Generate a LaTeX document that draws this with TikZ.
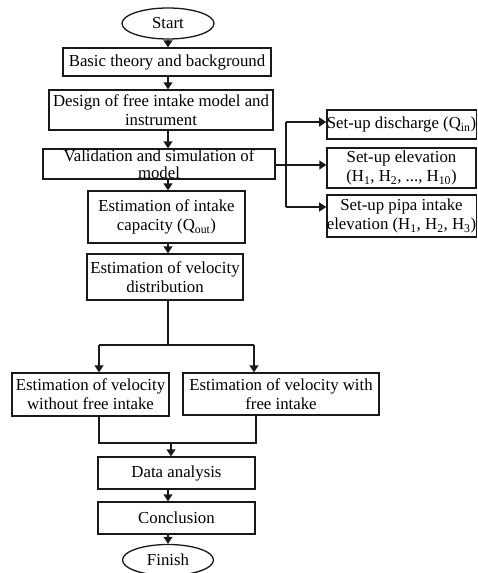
\documentclass[tikz,border=0pt]{standalone}
\usepackage{fontspec}
\setmainfont{Liberation Serif}
\usetikzlibrary{arrows.meta,shapes.geometric}
\begin{document}
\begin{tikzpicture}[x=1pt,y=-1pt,
  box/.style={draw=black!90, line width=1.3pt, align=center, inner sep=0pt, font=\fontsize{16.8}{19}\selectfont},
  oval/.style={draw=black!90, ellipse, line width=1.3pt, inner sep=0pt, font=\fontsize{16.8}{19}\selectfont},
  arr/.style={draw=black!90, line width=1.3pt, -{Triangle[length=7pt,width=9pt]}},
  ln/.style={draw=black!90, line width=1.3pt}]
\useasboundingbox (0,0) rectangle (477,573);

\node[oval, minimum width=92pt, minimum height=31pt] (start) at (168,23.5) {Start};
\node[box, minimum width=208pt, minimum height=28pt] (basic) at (167,62) {Basic theory and background};
\node[box, minimum width=224pt, minimum height=40pt] (design) at (161,110) {Design of free intake model and\\instrument};
\node[box, minimum width=232pt, minimum height=30pt, font=\fontsize{16.8}{16.5}\selectfont] (valid) at (159,164) {Validation and simulation of\\model};
\node[box, minimum width=157pt, minimum height=52pt] (intake) at (166.5,217) {Estimation of intake\\capacity (Q\textsubscript{out})};
\node[box, minimum width=156pt, minimum height=46pt] (veldist) at (165,277) {Estimation of velocity\\distribution};
\node[box, minimum width=157pt, minimum height=43pt] (vwo) at (90.5,394.5) {Estimation of velocity\\without free intake};
\node[box, minimum width=196pt, minimum height=42pt] (vw) at (281,394) {Estimation of velocity with\\free intake};
\node[box, minimum width=157pt, minimum height=32pt] (data) at (176.5,473) {Data analysis};
\node[box, minimum width=157pt, minimum height=32pt] (concl) at (176.5,518) {Conclusion};
\node[oval, minimum width=91pt, minimum height=31pt] (finish) at (168,560) {Finish};

\node[box, minimum width=149pt, minimum height=29pt] (q) at (401.5,124.5) {Set-up discharge (Q\textsubscript{in})};
\node[box, minimum width=149pt, minimum height=40pt] (elev) at (401.5,168) {Set-up elevation\\(H\textsubscript{1}, H\textsubscript{2}, ..., H\textsubscript{10})};
\node[box, minimum width=149pt, minimum height=42pt] (pipa) at (401.5,216) {Set-up pipa intake\\elevation (H\textsubscript{1}, H\textsubscript{2}, H\textsubscript{3})};

% main spine
\coordinate (ax) at (168,0);
\draw[arr] (start.south) -- (start.south |- basic.north);
\draw[arr] (basic.south -| ax) -- (design.north -| ax);
\draw[arr] (design.south -| ax) -- (valid.north -| ax);
\draw[arr] (valid.south -| ax) -- (intake.north -| ax);
\draw[arr] (intake.south -| ax) -- (veldist.north -| ax);

% branch to set-up boxes
\coordinate (bx) at (286,165);
\coordinate (bt) at (286,122);
\coordinate (bb) at (286,207);
\draw[arr] (valid.east |- bx) -- (elev.west |- bx);
\draw[ln] (bt) -- (bb);
\draw[arr] (bt) -- (q.west |- bt);
\draw[arr] (bb) -- (pipa.west |- bb);

% split to velocity boxes
\coordinate (sp) at (168,345);
\coordinate (sl) at (99,345);
\coordinate (sr) at (254,345);
\draw[ln] (veldist.south -| sp) -- (sp);
\draw[ln] (sl) -- (sr);
\draw[arr] (sl) -- (sl |- vwo.north);
\draw[arr] (sr) -- (sr |- vw.north);

% merge
\coordinate (ml) at (99,443);
\coordinate (mr) at (256,443);
\coordinate (mm) at (171,443);
\draw[ln] (vwo.south -| ml) -- (ml) -- (mr) -- (vw.south -| mr);
\draw[arr] (mm) -- (mm |- data.north);
\draw[arr] (data.south -| ax) -- (concl.north -| ax);
\draw[arr] (concl.south -| ax) -- (finish.north);
\end{tikzpicture}
\end{document}
